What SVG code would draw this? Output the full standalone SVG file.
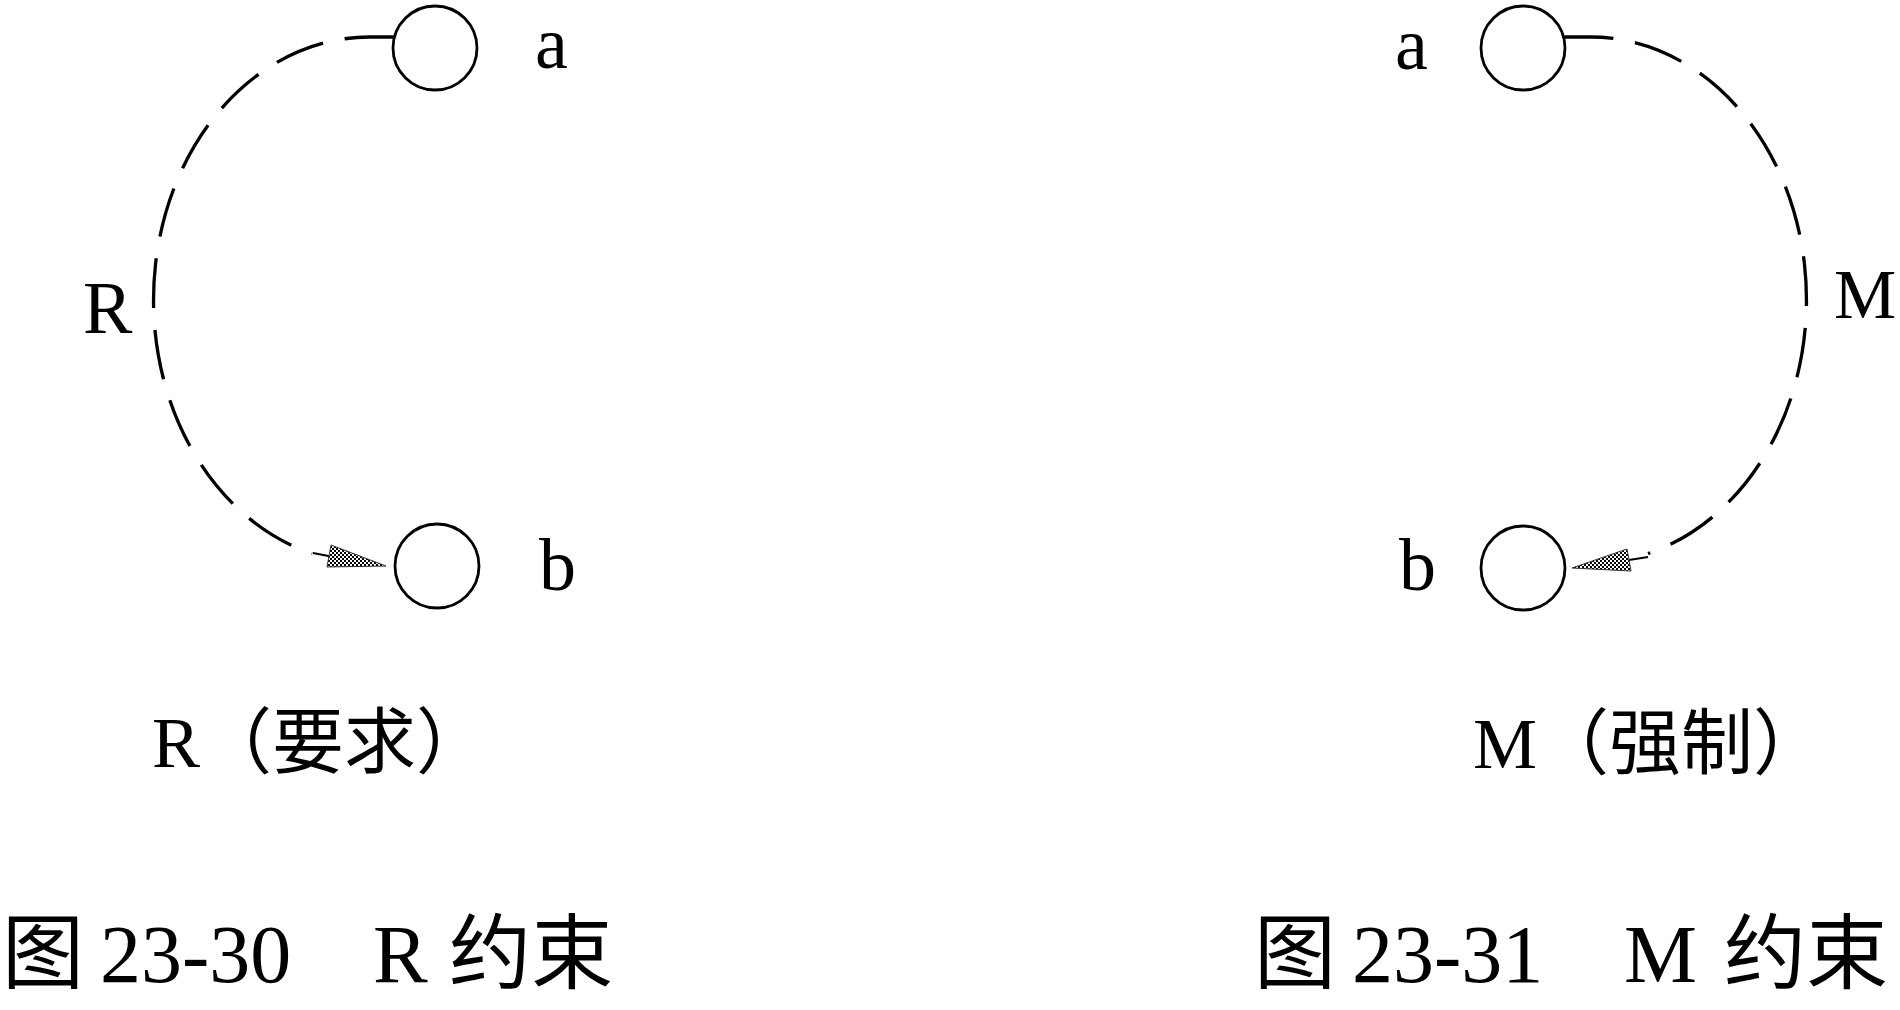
<svg xmlns="http://www.w3.org/2000/svg" width="1900" height="1010" viewBox="0 0 1900 1010">
<style>
.node{fill:none;stroke:#000;stroke-width:2.8}
.lbl{font-family:"Liberation Serif","Noto Sans CJK SC",serif;font-size:74px;fill:#000}
.cap{font-family:"Liberation Serif","Noto Sans CJK SC",serif;font-size:72px;fill:#000}
.fig{font-family:"Liberation Serif","Noto Sans CJK SC",serif;font-size:82px;fill:#000}
.arc{fill:none;stroke:#000;stroke-width:3.3;stroke-dasharray:50 22}
.line{fill:none;stroke:#000;stroke-width:2}
.head{fill:url(#hatch);stroke:#333;stroke-width:1}
</style>
<defs>
<pattern id="hatch" width="4" height="4" patternUnits="userSpaceOnUse">
<rect width="4" height="4" fill="#fff"/>
<rect x="0" y="0" width="2" height="2" fill="#000"/>
<rect x="2" y="2" width="2" height="2" fill="#000"/>
</pattern>
</defs>
<rect width="1900" height="1010" fill="#fff"/>

<g id="connectors">
<path class="arc" d="M 394.5 37 L 370 37 A 216 263 0 0 0 312 553.5"/>
<path class="line" d="M 313 553 L 331 556.5"/>
<polygon class="head" points="386,566 331,545 327,567"/>
<path class="arc" d="M 1563.5 37 L 1590 37 A 216 263 0 0 1 1648 553.5"/>
<path class="line" d="M 1648 557 L 1629 560"/>
<polygon class="head" points="1572,568 1627,549 1631,571"/>
</g>

<g id="left-a"><circle class="node" cx="435" cy="48" r="42"/><text class="lbl" x="535" y="68">a</text></g>
<g id="left-b"><circle class="node" cx="437" cy="566" r="42"/><text class="lbl" x="539" y="590">b</text></g>
<g id="right-a"><circle class="node" cx="1523" cy="48" r="42"/><text class="lbl" x="1395" y="69">a</text></g>
<g id="right-b"><circle class="node" cx="1523" cy="568" r="42"/><text class="lbl" x="1399" y="590">b</text></g>

<text class="lbl" x="83" y="333">R</text>
<text class="lbl" x="1834" y="318" style="font-size:70px">M</text>

<text class="cap" x="152" y="767">R（要求）</text>
<text class="cap" x="1473" y="768">M（强制）</text>

<text class="fig" y="982"><tspan x="2">图</tspan><tspan x="100">23-30</tspan><tspan x="373">R</tspan><tspan x="449">约束</tspan></text>
<text class="fig" y="982"><tspan x="1254">图</tspan><tspan x="1352">23-31</tspan><tspan x="1624">M</tspan><tspan x="1724">约束</tspan></text>
</svg>
